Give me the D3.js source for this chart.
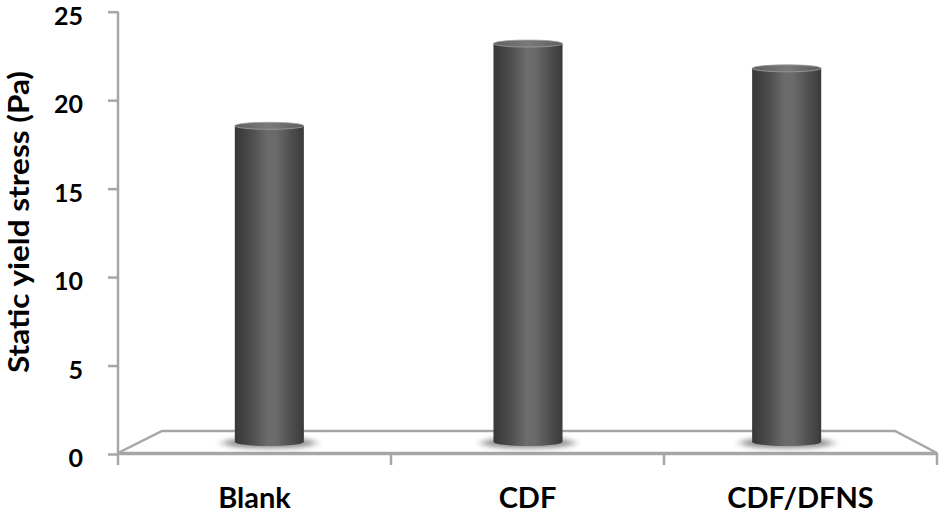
<!DOCTYPE html>
<html><head><meta charset="utf-8">
<script src="https://cdn.jsdelivr.net/npm/d3@7"></script>
<style>html,body{margin:0;padding:0;background:#fff;}svg{display:block;}</style>
</head><body>
<svg id="chart" width="945" height="516"></svg>
<script>
const categories = ["Blank", "CDF", "CDF/DFNS"];
const values = [18.55, 23.2, 21.8];
const yTicks = [0, 5, 10, 15, 20, 25];
const yTitle = "Static yield stress (Pa)";

const svg = d3.select("#chart");
const axisX = 118;
const y = d3.scaleLinear().domain([0, 25]).range([454, 11.7]);
const xFront = d3.scaleBand().domain(categories).range([118, 937]);
const xMid = d3.scaleBand().domain(categories).range([140, 916]).paddingInner(0.733).paddingOuter(0.3665);
const floorFrontY = 453, floorBackY = 431;
const floorMidY = (floorFrontY + floorBackY) / 2;
const gray = "#a6a6a6";
const font = "Lato, 'Open Sans', sans-serif";

const defs = svg.append("defs");
const grad = defs.append("linearGradient").attr("id", "cyl").attr("x1", "0").attr("x2", "1").attr("y1", "0").attr("y2", "0");
[[0, "#383838"], [0.06, "#3c3c3c"], [0.25, "#4e4e4e"], [0.48, "#6c6c6c"], [0.6, "#6a6a6a"], [0.8, "#515151"], [0.95, "#404040"], [1, "#3a3a3a"]]
  .forEach(([o, c]) => grad.append("stop").attr("offset", o).attr("stop-color", c));
const topGrad = defs.append("linearGradient").attr("id", "cyltop").attr("x1", "0").attr("x2", "1");
[[0, "#5e5e5e"], [0.5, "#7a7a7a"], [1, "#5e5e5e"]].forEach(([o, c]) => topGrad.append("stop").attr("offset", o).attr("stop-color", c));
const blur = defs.append("filter").attr("id", "blur").attr("x", "-50%").attr("y", "-100%").attr("width", "200%").attr("height", "300%");
blur.append("feGaussianBlur").attr("stdDeviation", "5 2.5");

// floor
const floorPts = [[118, floorFrontY], [937, floorFrontY], [895, floorBackY], [162, floorBackY]];
svg.append("polygon").attr("points", floorPts.map(p => p.join(",")).join(" "))
  .attr("fill", "#fff").attr("stroke", gray).attr("stroke-width", 2.5).attr("stroke-linejoin", "miter");

// y axis
const yAxis = d3.axisLeft(y).tickValues(yTicks).tickSize(10).tickPadding(25);
const gy = svg.append("g").attr("transform", `translate(${axisX},0)`).call(yAxis);
gy.select(".domain").attr("d", `M0,${y(25)}V${y(0)+1}`).attr("stroke", gray).attr("stroke-width", 2.5).attr("fill", "none");
gy.selectAll(".tick line").attr("stroke", gray).attr("stroke-width", 2.5);
gy.selectAll(".tick text").attr("font-family", font).attr("font-weight", "bold")
  .attr("font-size", 25).attr("fill", "#000").attr("dy", "0.5em");

// x axis ticks (category boundaries)
const xBounds = categories.map(c => xFront(c)).concat([xFront.range()[1]]);
svg.append("g").selectAll("line").data(xBounds).join("line")
  .attr("x1", d => d).attr("x2", d => d).attr("y1", 453).attr("y2", 465)
  .attr("stroke", gray).attr("stroke-width", 2.5);
svg.append("line").attr("x1", 118).attr("x2", 937).attr("y1", 454).attr("y2", 454)
  .attr("stroke", gray).attr("stroke-width", 2.5);

// category labels
svg.append("g").selectAll("text").data(categories).join("text")
  .attr("x", d => xFront(d) + xFront.bandwidth() / 2).attr("y", 508)
  .attr("text-anchor", "middle").attr("font-family", font)
  .attr("font-weight", "bold").attr("font-size", 29).attr("fill", "#000").text(d => d);

// y title
svg.append("text").attr("transform", "translate(29,222) rotate(-90)")
  .attr("text-anchor", "middle").attr("font-family", font)
  .attr("font-weight", "bold").attr("font-size", 28).attr("fill", "#000")
  .attr("textLength", 302).attr("lengthAdjust", "spacingAndGlyphs").text(yTitle);

// bars (cylinders)
const bars = svg.append("g").selectAll("g").data(categories.map((c, i) => ({c, v: values[i]}))).join("g");
const bw = xMid.bandwidth();
const ry = 3.5;
bars.append("ellipse").attr("cx", d => xMid(d.c) + bw / 2).attr("cy", floorMidY + 1)
  .attr("rx", bw * 0.68).attr("ry", 5.5).attr("fill", "#4a4a4a").attr("opacity", 0.6).attr("filter", "url(#blur)");
bars.append("path").attr("d", d => {
  const x0 = xMid(d.c), x1 = x0 + bw, yt = y(d.v), yb = floorMidY;
  return `M${x0},${yt}L${x0},${yb}A${bw/2},${ry+0.5} 0 0 0 ${x1},${yb}L${x1},${yt}Z`;
}).attr("fill", "url(#cyl)");
bars.append("ellipse").attr("cx", d => xMid(d.c) + bw / 2).attr("cy", d => y(d.v))
  .attr("rx", bw / 2).attr("ry", ry).attr("fill", "url(#cyltop)").attr("stroke", "#a0a0a0").attr("stroke-width", 0.8);
</script>
</body></html>
